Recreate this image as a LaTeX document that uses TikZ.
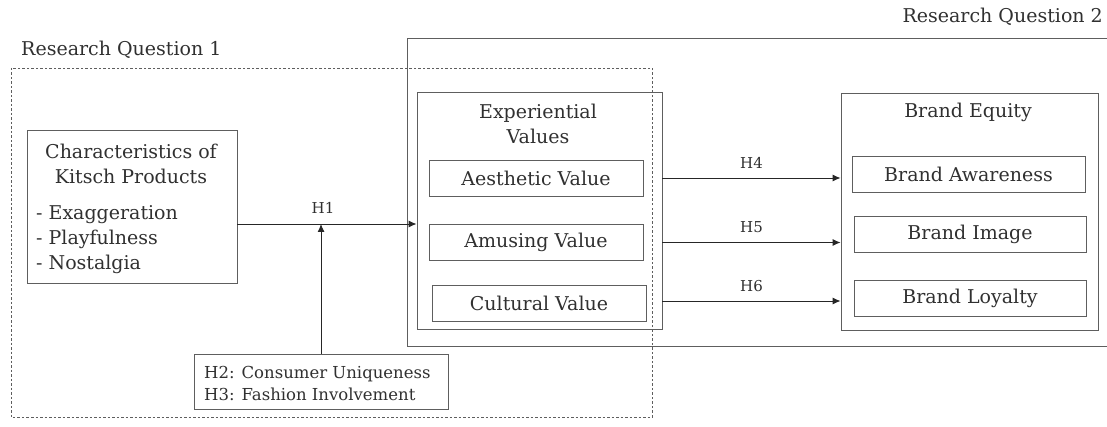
\documentclass[tikz,border=0pt]{standalone}
\usepackage{fontspec}
\setmainfont{DejaVu Serif}
\usetikzlibrary{arrows.meta,positioning}
\definecolor{txtgray}{HTML}{303030}
\definecolor{linegray}{HTML}{5E5E5E}
\tikzset{
    box/.style={draw=linegray, line width=0.9pt, inner sep=0pt, text=txtgray, font=\fontsize{19}{25}\selectfont},
    valbox/.style={box, minimum width=214, minimum height=36},
    brandbox/.style={box, minimum width=232, minimum height=36},
    label/.style={text=txtgray, inner sep=0pt, font=\fontsize{19}{25}\selectfont},
    hyp/.style={text=txtgray, inner sep=0pt, font=\fontsize{15}{18}\selectfont},
    fleche/.style={-{Latex[length=8pt,width=7pt]}, line width=0.9pt, draw=black!85},
  }
\begin{document}
\begin{tikzpicture}[x=1pt,y=-1pt]
			          %cadre et marges (en px)
			          \useasboundingbox (0,0) rectangle (1107,427);
				  \coordinate(rqA) at (11,68);
				  \coordinate(rqB) at (652,417);
				  \coordinate(h1) at (321,224);

				  %questions de recherche
				  \draw[linegray, line width=0.8pt, dash pattern=on 2.5pt off 2pt] (rqA) rectangle (rqB);
				  \draw[linegray, line width=0.9pt] (1110,38) -- (407,38) -- (407,346) -- (1110,346);
				  \node[label, anchor=west] (rq1) at (21,50) {Research Question 1};
				  \node[label, anchor=east] (rq2) at (1103,17) {Research Question 2};

				  %kitsch
				  \node[box, minimum width=210, minimum height=153] (kitsch) at (132,206.5) {};
				  \node[label, align=center] (kitschT) at (131,163.5) {Characteristics of\\Kitsch Products};
				  \node[label, align=left, anchor=west] (kitschL) at (36,239.5) {- Exaggeration\\- Playfulness\\- Nostalgia};

				  %valeurs
				  \node[box, minimum width=245, minimum height=237] (expval) at (539.5,210.5) {};
				  \node[label, align=center] (expvalT) at (538,124) {Experiential\\Values};
				  \node[valbox] (aesth) at (536,178) {Aesthetic Value};
				  \node[valbox] (amus) at (536,242.5) {Amusing Value};
				  \node[valbox] (cult) at (539,303) {Cultural Value};

				  %capital de marque
				  \node[box, minimum width=257, minimum height=237] (equity) at (969.5,211.5) {};
				  \node[label] (equityT) at (968,112) {Brand Equity};
				  \node[brandbox, minimum width=233] (aware) at (968.5,174) {Brand Awareness};
				  \node[brandbox] (image) at (970,234) {Brand Image};
				  \node[brandbox] (loyal) at (970,298.5) {Brand Loyalty};

				  %moderateurs
				  \node[box, minimum width=254, minimum height=55] (moder) at (321,381.5) {};
				  \node[hyp, align=left, anchor=west, font=\fontsize{16.5}{22}\selectfont] (moderT) at (204,383.5) {H2: Consumer Uniqueness\\H3: Fashion Involvement};

				  \draw[fleche] (kitsch.east |- h1) -- (expval.west |- h1);
				  \draw[fleche] (moder.north) -- (h1);
				  \node[hyp] (h1lab) at (323,208) {H1};
				  \draw[fleche] (expval.east |- aesth) -- (equity.west |- aesth) node[hyp, midway, above=9pt] {H4};
				  \draw[fleche] (expval.east |- amus) -- (equity.west |- amus) node[hyp, midway, above=9pt] {H5};
				  \draw[fleche] (expval.east |- 0,301) -- (equity.west |- 0,301) node[hyp, midway, above=9pt] {H6};
				  \end{tikzpicture}
\end{document}
